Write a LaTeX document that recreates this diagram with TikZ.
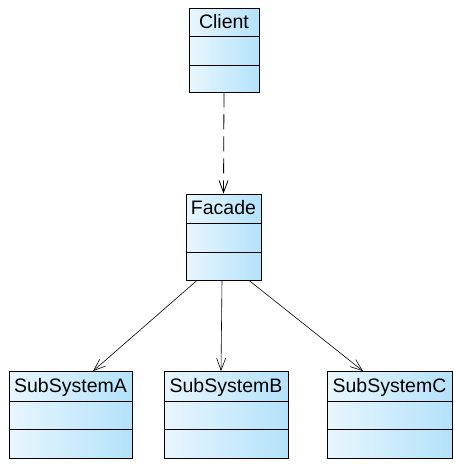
\documentclass[tikz,border=0pt]{standalone}
\usepackage{fontspec}
\setmainfont{Liberation Sans}
\usetikzlibrary{arrows.meta}
\definecolor{boxL}{RGB}{232,246,254}
\definecolor{boxR}{RGB}{180,226,250}
\tikzset{
  cls/.style={draw=black, line width=0.8pt, left color=boxL, right color=boxR, inner sep=0pt, rectangle},
  ttl/.style={anchor=base, inner sep=0pt, font=\fontsize{19.5}{23}\selectfont},
  sep/.style={draw=black, line width=0.8pt},
  dep/.style={draw=black, line width=0.8pt, dash pattern=on 15pt off 7pt, -{Straight Barb[length=12pt,width=9pt]}},
  assoc/.style={draw=black, line width=0.6pt, -{Straight Barb[length=12pt,width=9pt]}},
}
\begin{document}
\begin{tikzpicture}[x=1pt,y=-1pt]
\useasboundingbox (0,0) rectangle (454,469);
% Client
\node[cls, minimum width=70pt, minimum height=84pt] (client) at (224,50) {};
\draw[sep] (189,36) -- (259,36) (189,65) -- (259,65);
\node[ttl] (clientT) at (224,28.5) {Client};
% Facade
\node[cls, minimum width=75pt, minimum height=86pt] (facade) at (223.5,237) {};
\draw[sep] (186,223) -- (261,223) (186,252) -- (261,252);
\node[ttl] (facadeT) at (223.5,214.5) {Facade};
% SubSystemA
\node[cls, minimum width=123pt, minimum height=87pt] (subA) at (70.5,415) {};
\draw[sep] (9,401) -- (132,401) (9,429) -- (132,429);
\node[ttl] (subAT) at (70.5,392) {SubSystemA};
% SubSystemB
\node[cls, minimum width=124pt, minimum height=87pt] (subB) at (226,415) {};
\draw[sep] (164,401) -- (288,401) (164,429) -- (288,429);
\node[ttl] (subBT) at (226,392) {SubSystemB};
% SubSystemC
\node[cls, minimum width=125pt, minimum height=87pt] (subC) at (389.5,415) {};
\draw[sep] (327,401) -- (452,401) (327,429) -- (452,429);
\node[ttl] (subCT) at (389.5,392) {SubSystemC};
% connectors
\draw[dep] (client.south) -- (facade.north);
\draw[assoc] ([xshift=-26.5pt]facade.south) -- ([xshift=22.5pt]subA.north);
\draw[assoc] ([xshift=-1.5pt]facade.south) -- ([xshift=-5pt]subB.north);
\draw[assoc] ([xshift=25.5pt]facade.south) -- ([xshift=-26.5pt]subC.north);
\end{tikzpicture}
\end{document}
